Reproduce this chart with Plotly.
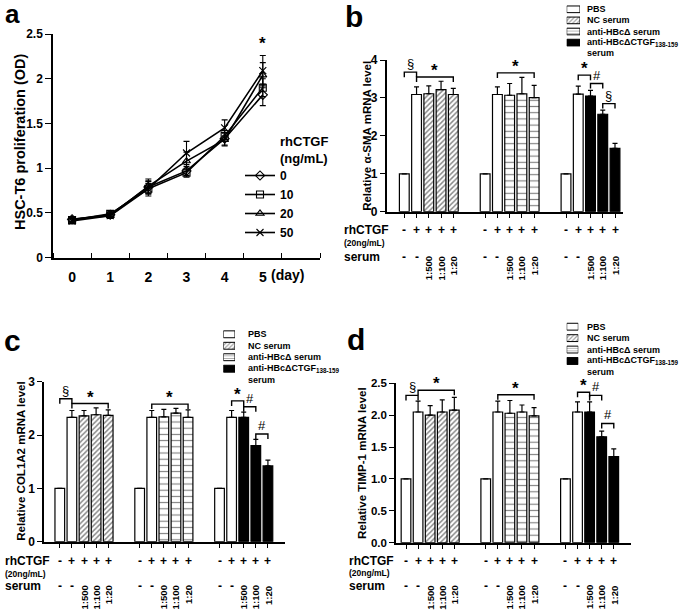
import plotly.graph_objects as go

W, H = 685, 613
FONT = "Arial, 'Liberation Sans', Helvetica, sans-serif"


def fx(p):
    return p / W


def fy(p):
    return 1 - p / H


# ---------------- Panel a data ----------------
days = [0, 1, 2, 3, 4, 5]
day_labels = ["0", "1", "2", "3", "4", "5"]
dose_names = ["0", "10", "20", "50"]
od_0 = [0.43, 0.48, 0.79, 0.97, 1.33, 1.82]
od_10 = [0.42, 0.49, 0.77, 0.95, 1.36, 1.90]
od_20 = [0.43, 0.47, 0.80, 1.08, 1.32, 2.04]
od_50 = [0.41, 0.47, 0.77, 1.17, 1.45, 2.09]
sd_0 = [0.03, 0.03, 0.07, 0.05, 0.07, 0.12]
sd_10 = [0.03, 0.03, 0.06, 0.05, 0.06, 0.10]
sd_20 = [0.03, 0.03, 0.08, 0.10, 0.07, 0.14]
sd_50 = [0.03, 0.03, 0.08, 0.13, 0.09, 0.17]
a_yticks = [0, 0.5, 1, 1.5, 2, 2.5]
a_yticktext = ["0", "0.5", "1", "1.5", "2", "2.5"]

# ---------------- Bar panels data ----------------
legend_labels = ["PBS", "NC serum", "anti-HBcΔ serum", "anti-HBcΔCTGF<sub>138-159</sub>"]
rhctgf_row = ["-", "+", "+", "+", "+"]
serum_row = ["-", "-", "1:500", "1:100", "1:20"]

# alpha-SMA (panel b): groups NC serum / anti-HBcΔ serum / anti-HBcΔCTGF serum
sma_nc = [1.00, 3.09, 3.11, 3.22, 3.09]
sma_hbc = [1.00, 3.09, 3.07, 3.11, 3.01]
sma_ctgf = [1.00, 3.10, 3.05, 2.57, 1.67]
sma_nc_err = [0, 0.20, 0.21, 0.22, 0.16]
sma_hbc_err = [0, 0.20, 0.31, 0.43, 0.32]
sma_ctgf_err = [0, 0.21, 0.15, 0.11, 0.13]

# COL1A2 (panel c)
col_nc = [1.00, 2.33, 2.36, 2.38, 2.37]
col_hbc = [1.00, 2.33, 2.34, 2.41, 2.33]
col_ctgf = [1.00, 2.33, 2.33, 1.80, 1.42]
col_nc_err = [0, 0.13, 0.10, 0.13, 0.10]
col_hbc_err = [0, 0.13, 0.14, 0.09, 0.14]
col_ctgf_err = [0, 0.13, 0.10, 0.12, 0.11]

# TIMP-1 (panel d)
timp_nc = [1.00, 2.05, 2.00, 2.05, 2.08]
timp_hbc = [1.00, 2.05, 2.03, 2.05, 1.99]
timp_ctgf = [1.00, 2.05, 2.05, 1.66, 1.35]
timp_nc_err = [0, 0.17, 0.15, 0.19, 0.20]
timp_hbc_err = [0, 0.17, 0.20, 0.11, 0.13]
timp_ctgf_err = [0, 0.16, 0.16, 0.09, 0.12]

# significance brackets: (group, first bar, last bar, height, symbol)
sma_brackets = [(0, 0, 1, 3.68, "§"), (0, 1, 4, 3.55, "*"), (1, 1, 4, 3.66, "*"),
                (2, 1, 2, 3.60, "*"), (2, 2, 3, 3.38, "#"), (2, 3, 4, 2.85, "§")]
col_brackets = [(0, 0, 1, 2.68, "§"), (0, 1, 4, 2.59, "*"), (1, 1, 4, 2.58, "*"),
                (2, 1, 2, 2.64, "*"), (2, 2, 3, 2.53, "#"), (2, 3, 4, 2.02, "#")]
timp_brackets = [(0, 0, 1, 2.31, "§"), (0, 1, 4, 2.39, "*"), (1, 1, 4, 2.32, "*"),
                 (2, 1, 2, 2.36, "*"), (2, 2, 3, 2.31, "#"), (2, 3, 4, 1.87, "#")]

GROUP_STEP = 6.6


def pos(g, i):
    return g * GROUP_STEP + i


fig = go.Figure()
annotations = []
shapes = []


def bold(size, weight="bold"):
    return dict(family=FONT, size=size, color="black", weight=weight)


def ptext(text, x, y, size, xanchor="center", yanchor="middle", weight="bold", **kw):
    return dict(text=text, x=fx(x), y=fy(y), xref="paper", yref="paper", xanchor=xanchor,
                yanchor=yanchor, showarrow=False, font=bold(size, weight), **kw)


# ---------------- Panel a ----------------
a_markers = ["diamond-open", "square-open", "triangle-up-open", "x-thin-open"]
for name, vals, errs, sym in zip(dose_names, [od_0, od_10, od_20, od_50],
                                 [sd_0, sd_10, sd_20, sd_50], a_markers):
    fig.add_trace(go.Scatter(
        x=days, y=vals, name=name, mode="lines+markers",
        line=dict(color="black", width=1.6),
        marker=dict(symbol=sym, size=7, color="black", line=dict(color="black", width=1.1)),
        error_y=dict(type="data", array=errs, color="black", thickness=1.1, width=3),
        xaxis="x", yaxis="y", legend="legend"))

fig.update_layout(
    xaxis=dict(domain=[fx(53), fx(320)], range=[-0.5, 6.5], showline=True, linecolor="black",
               linewidth=1.5, showgrid=False, zeroline=False, tickvals=days, ticktext=day_labels,
               ticks="", tickfont=bold(14), ticklabelstandoff=6,
               minor=dict(tickvals=[-0.5 + k for k in range(8)], ticks="inside", ticklen=5,
                          tickwidth=1.3, tickcolor="black")),
    yaxis=dict(domain=[fy(257.7), fy(34)], range=[0, 2.5], showline=True, linecolor="black",
               linewidth=1.5, showgrid=False, zeroline=False, tickvals=a_yticks,
               ticktext=a_yticktext, ticks="outside", ticklen=6, tickwidth=1.3,
               tickcolor="black", tickfont=bold(12)),
)
annotations += [
    ptext("a", 3, -3, 26, xanchor="left", yanchor="top"),
    ptext("HSC-T6 proliferation (OD)", 20, 142, 14.5, textangle=-90),
    dict(text="(day)", x=5.66, y=fy(275), xref="x", yref="paper", xanchor="center",
         yanchor="middle", showarrow=False, font=bold(14)),
    dict(text="*", x=5, y=2.27, xref="x", yref="y", xanchor="center", yanchor="bottom",
         showarrow=False, font=bold(17)),
    ptext("rhCTGF", 278, 141, 13, xanchor="left"),
    ptext("(ng/mL)", 278, 159, 13, xanchor="left"),
]

# ---------------- Bar panels ----------------
fills = [
    dict(color="white"),
    dict(color="white", pattern=dict(shape="/", size=3.6, solidity=0.42, fgcolor="#111111",
                                     bgcolor="white", fillmode="overlay")),
    dict(color="white", pattern=dict(shape="-", size=6.2, solidity=0.18, fgcolor="black",
                                     bgcolor="white", fillmode="overlay")),
    dict(color="black"),
]

panels = [
    dict(ax="2", lg="5", label="b", vals=[sma_nc, sma_hbc, sma_ctgf],
         errs=[sma_nc_err, sma_hbc_err, sma_ctgf_err], brackets=sma_brackets,
         title="Relative α-SMA mRNA level", yt=[0, 1, 2, 3, 4], ytt=["0", "1", "2", "3", "4"],
         yr=[0, 4], xdom=(386.7, 622.7), bar0=404.3, step=12.25, ydom=(211.7, 60.0),
         tickfont=12, title_x=367, letter=(343, -2),
         row_left=342, row_sign=229.5, row_sub=242.5, row_serum=256.7, row_ratio=254.5,
         key_x=(566.7, 580), key_y0=9.3, key_dy=11.1, key_gap=5),
    dict(ax="3", lg="6", label="c", vals=[col_nc, col_hbc, col_ctgf],
         errs=[col_nc_err, col_hbc_err, col_ctgf_err], brackets=col_brackets,
         title="Relative COL1A2 mRNA level", yt=[0, 1, 2, 3], ytt=["0", "1", "2", "3"],
         yr=[0, 3], xdom=(44, 285), bar0=59.8, step=12.1, ydom=(541.7, 381.7),
         tickfont=12, title_x=21, letter=(2, 322),
         row_left=3, row_sign=561, row_sub=573.5, row_serum=586, row_ratio=583.5,
         key_x=(223.3, 235), key_y0=334.3, key_dy=11.47, key_gap=11),
    dict(ax="4", lg="7", label="d", vals=[timp_nc, timp_hbc, timp_ctgf],
         errs=[timp_nc_err, timp_hbc_err, timp_ctgf_err], brackets=timp_brackets,
         title="Relative TIMP-1 mRNA level", yt=[0, 0.5, 1, 1.5, 2, 2.5],
         ytt=["0.0", "0.5", "1.0", "1.5", "2.0", "2.5"],
         yr=[0, 2.5], xdom=(396, 631), bar0=406, step=12.08, ydom=(542.7, 383.3),
         tickfont=11.5, title_x=362, letter=(345, 321),
         row_left=347, row_sign=561, row_sub=573, row_serum=586, row_ratio=583.5,
         key_x=(566.7, 578.3), key_y0=326.7, key_dy=11.43, key_gap=6.5),
]

for p in panels:
    ax = p["ax"]
    xa, ya = "x" + ax, "y" + ax
    vals, errs = p["vals"], p["errs"]
    # PBS bars (first two bars in each group)
    pbs_x = [pos(g, i) for g in range(3) for i in (0, 1)]
    pbs_y = [vals[g][i] for g in range(3) for i in (0, 1)]
    pbs_e = [errs[g][i] for g in range(3) for i in (0, 1)]
    series = [(legend_labels[0], pbs_x, pbs_y, pbs_e)]
    for g in range(3):
        series.append((legend_labels[g + 1], [pos(g, i) for i in (2, 3, 4)],
                       vals[g][2:5], errs[g][2:5]))
    for (nm, xs, ys, es), fill in zip(series, fills):
        fig.add_trace(go.Bar(
            x=xs, y=ys, name=nm, width=0.8, xaxis=xa, yaxis=ya, showlegend=False,
            marker=dict(line=dict(color="black", width=1.2), **fill),
            error_y=dict(type="data", array=es, arrayminus=[0] * len(es), symmetric=False,
                         color="black", thickness=1.2, width=2.5)))

    x0, x1 = p["xdom"]
    rng = [(x0 - p["bar0"]) / p["step"], (x1 - p["bar0"]) / p["step"]]
    all_pos = [pos(g, i) for g in range(3) for i in range(5)]
    fig.update_layout(**{
        "xaxis" + ax: dict(domain=[fx(x0), fx(x1)], range=rng, showline=True, linecolor="black",
                           linewidth=1.5, showgrid=False, zeroline=False, tickvals=all_pos,
                           showticklabels=False, ticks="outside", ticklen=5, tickwidth=1.3,
                           tickcolor="black", anchor=ya),
        "yaxis" + ax: dict(domain=[fy(p["ydom"][0]), fy(p["ydom"][1])], range=p["yr"],
                           showline=True, linecolor="black", linewidth=1.5, showgrid=False,
                           zeroline=False, tickvals=p["yt"], ticktext=p["ytt"], ticks="outside",
                           ticklen=5, tickwidth=1.3, tickcolor="black",
                           tickfont=bold(p["tickfont"]), anchor=xa),
    })

    # brackets
    for g, i0, i1, yv, sym in p["brackets"]:
        xa0, xa1 = pos(g, i0), pos(g, i1)
        shapes.append(dict(type="path", xref=xa, yref=ya, ysizemode="pixel", yanchor=yv,
                           path=f"M{xa0},-5 L{xa0},0 L{xa1},0 L{xa1},-5",
                           line=dict(color="black", width=1.4)))
        if sym == "*":
            annotations.append(dict(text="*", x=(xa0 + xa1) / 2, y=yv, xref=xa, yref=ya,
                                    xanchor="center", yanchor="bottom", yshift=-5,
                                    showarrow=False, font=bold(17)))
        else:
            annotations.append(dict(text=sym, x=(xa0 + xa1) / 2, y=yv, xref=xa, yref=ya,
                                    xanchor="center", yanchor="bottom", yshift=-1,
                                    showarrow=False, font=bold(13, "normal")))

    # y title and panel letter
    annotations.append(ptext(p["title"], p["title_x"], (p["ydom"][0] + p["ydom"][1]) / 2,
                             11.5, textangle=-90))
    annotations.append(ptext(p["label"], p["letter"][0], p["letter"][1], 30,
                             xanchor="left", yanchor="top"))

    # treatment rows under the axis
    annotations += [
        ptext("rhCTGF", p["row_left"], p["row_sign"], 12, xanchor="left"),
        ptext("(20ng/mL)", p["row_left"], p["row_sub"], 8.5, xanchor="left"),
        ptext("serum", p["row_left"], p["row_serum"], 12, xanchor="left"),
    ]
    for g in range(3):
        for i in range(5):
            annotations.append(dict(text=rhctgf_row[i], x=pos(g, i), y=fy(p["row_sign"]),
                                    xref=xa, yref="paper", xanchor="center",
                                    yanchor="middle", showarrow=False, font=bold(12)))
            if i < 2:
                annotations.append(dict(text=serum_row[i], x=pos(g, i), y=fy(p["row_serum"]),
                                        xref=xa, yref="paper", xanchor="center",
                                        yanchor="middle", showarrow=False, font=bold(12)))
            else:
                annotations.append(dict(text=serum_row[i], x=pos(g, i), y=fy(p["row_ratio"]),
                                        xref=xa, yref="paper", textangle=-90,
                                        xanchor="center", yanchor="top",
                                        showarrow=False, font=bold(9.5)))

    # legend keys drawn on a small axis pair
    lg = p["lg"]
    kx0, kx1 = p["key_x"]
    ky0, kdy = p["key_y0"], p["key_dy"]
    fig.add_trace(go.Bar(
        y=[0, 1, 2, 3], x=[1, 1, 1, 1], base=0, orientation="h", width=0.6,
        xaxis="x" + lg, yaxis="y" + lg, showlegend=False, hoverinfo="skip",
        marker=dict(color=["white", "white", "white", "black"],
                    line=dict(color="black", width=1),
                    pattern=dict(shape=["", "/", "-", ""], size=[4, 3, 2.6, 4],
                                 solidity=[0.3, 0.4, 0.3, 0.3],
                                 fgcolor="#222222", bgcolor="white", fillmode="overlay"))))
    fig.update_layout(**{
        "xaxis" + lg: dict(domain=[fx(kx0), fx(kx1)], range=[0, 1], visible=False,
                           anchor="y" + lg),
        "yaxis" + lg: dict(domain=[fy(ky0 + 4.5 * kdy), fy(ky0 - 0.5 * kdy)],
                           range=[4.5, -0.5], visible=False, anchor="x" + lg),
    })
    for k, lab in enumerate(legend_labels):
        annotations.append(dict(text=lab, x=1, y=k, xref="x" + lg, yref="y" + lg,
                                xanchor="left", yanchor="middle", xshift=p["key_gap"],
                                showarrow=False, font=bold(9)))
    annotations.append(dict(text="serum", x=1, y=3.95, xref="x" + lg, yref="y" + lg,
                            xanchor="left", yanchor="middle", xshift=p["key_gap"],
                            showarrow=False, font=bold(9)))

fig.update_layout(
    template="none",
    width=W, height=H, margin=dict(l=0, r=0, t=0, b=0, pad=0, autoexpand=False),
    paper_bgcolor="white", plot_bgcolor="rgba(0,0,0,0)",
    font=dict(family=FONT, color="black"),
    barmode="overlay",
    legend=dict(x=fx(240), y=fy(161), xanchor="left", yanchor="top",
                font=bold(12), bgcolor="rgba(0,0,0,0)", tracegroupgap=0),
    annotations=annotations, shapes=shapes,
)
fig.update_xaxes(automargin=False)
fig.update_yaxes(automargin=False)

fig.write_html("out.html", config={"displayModeBar": False},
               post_script="document.body.style.margin='0';document.body.style.overflow='hidden';")
